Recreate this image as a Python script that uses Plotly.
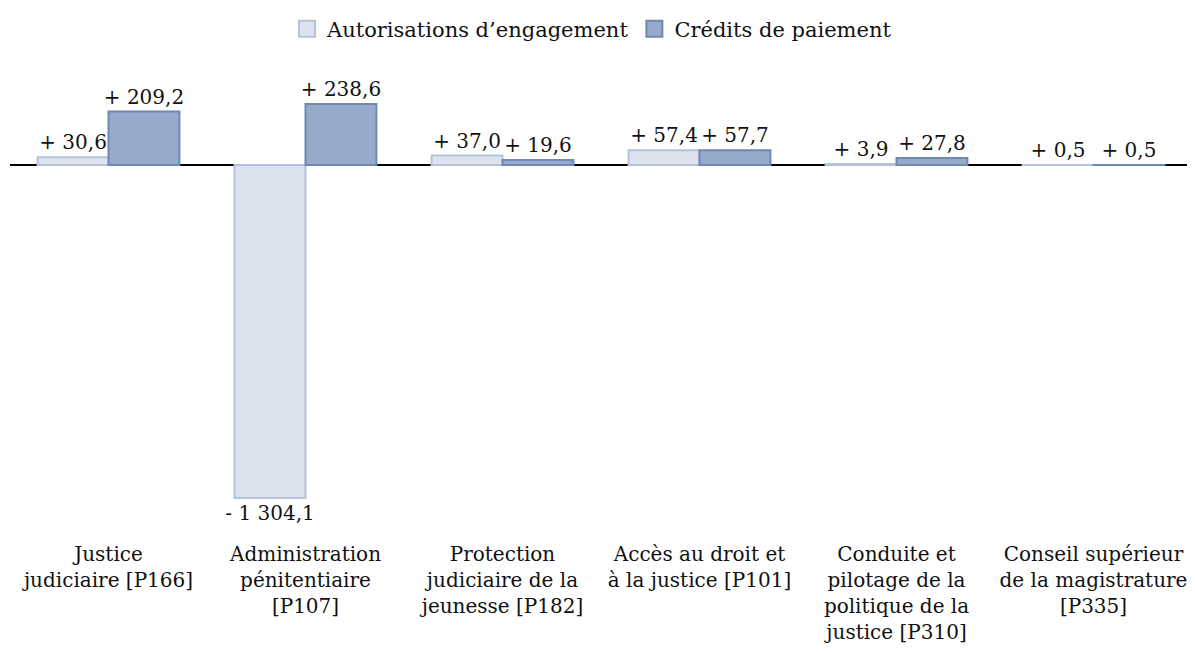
import plotly.graph_objects as go

# Programmes (libellés en plusieurs lignes)
categories = [
    "Justice<br>judiciaire [P166]",
    "Administration<br>pénitentiaire<br>[P107]",
    "Protection<br>judiciaire de la<br>jeunesse [P182]",
    "Accès au droit et<br>à la justice [P101]",
    "Conduite et<br>pilotage de la<br>politique de la<br>justice [P310]",
    "Conseil supérieur<br>de la magistrature<br>[P335]",
]
ae_values = [30.6, -1304.1, 37.0, 57.4, 3.9, 0.5]
cp_values = [209.2, 238.6, 19.6, 57.7, 27.8, 0.5]
series_names = ["Autorisations d’engagement", "Crédits de paiement"]

FONT = "DejaVu Serif"
FSIZE = 21
AE_FILL, AE_LINE = "#dce3ef", "#b4c3dc"
CP_FILL, CP_LINE = "#97aacb", "#6f88b4"


def fmt(v):
    # format français : "+ 30,6", "- 1 304,1"
    sign = "+ " if v >= 0 else "- "
    s = f"{abs(v):,.1f}".replace(",", " ").replace(".", ",")
    return sign + s


fig = go.Figure()

for vals, fill, line in [(ae_values, AE_FILL, AE_LINE), (cp_values, CP_FILL, CP_LINE)]:
    fig.add_trace(go.Bar(
        x=categories, y=vals, showlegend=False,
        marker=dict(color=fill, line=dict(color=line, width=2)),
        text=[fmt(v) for v in vals], textposition="outside",
        textfont=dict(family=FONT, size=20, color="#111"),
        constraintext="none", cliponaxis=False,
    ))

# entrées de légende (carrés plus grands que ceux des barres)
for name, fill, line in zip(series_names, [AE_FILL, CP_FILL], [AE_LINE, CP_LINE]):
    fig.add_trace(go.Scatter(
        x=[None], y=[None], mode="markers", name=name,
        marker=dict(symbol="square", size=20, color=fill, line=dict(color=line, width=2)),
    ))

# la page ajoute ~8 px de marge autour du graphique
fig.update_layout(
    width=1187, height=644,
    barmode="group", bargap=0.28, bargroupgap=0,
    plot_bgcolor="white", paper_bgcolor="white",
    font=dict(family=FONT, size=FSIZE, color="#111"),
    margin=dict(l=2, r=3, t=67, b=112, autoexpand=False),
    legend=dict(orientation="h", x=0.4924, xanchor="center", y=0.999, yanchor="top",
                yref="container", font=dict(family=FONT, size=FSIZE), itemsizing="trace"),
)
fig.update_xaxes(showline=False, ticks="", showgrid=False, tickangle=0,
                 tickfont=dict(family=FONT, size=20), ticklabelstandoff=0,
                 automargin=False)
fig.update_yaxes(range=[-1468.6, 352.5], showticklabels=False, showgrid=False,
                 zeroline=True, zerolinecolor="black", zerolinewidth=2, automargin=False)

fig.write_html("out.html")
